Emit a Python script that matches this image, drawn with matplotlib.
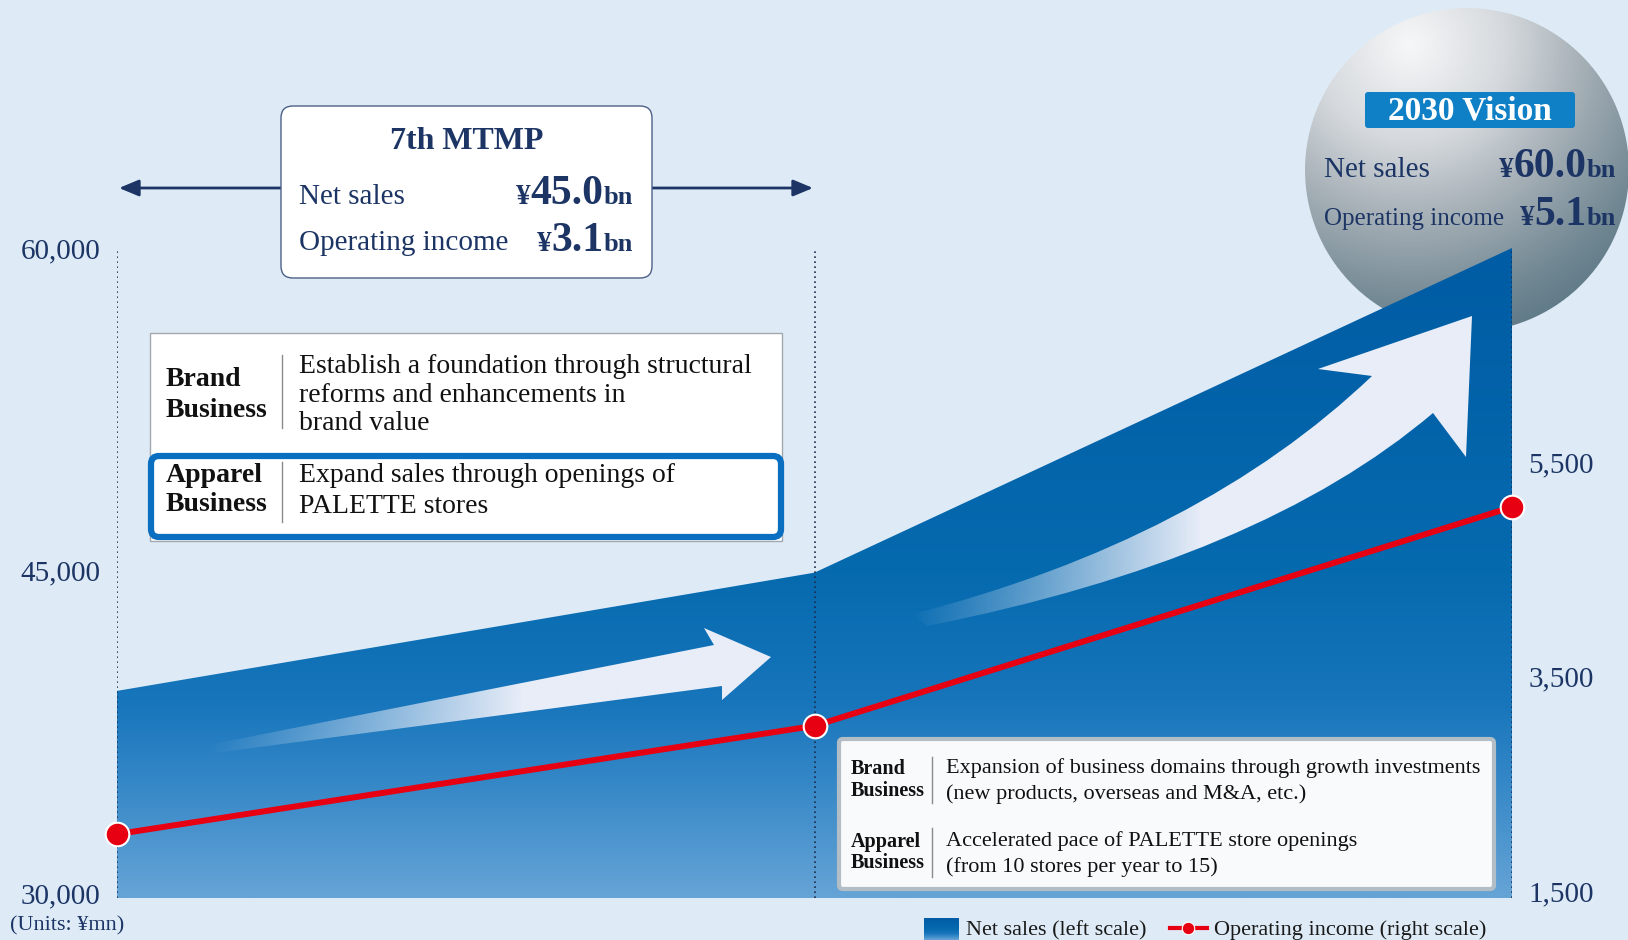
import numpy as np
import matplotlib
matplotlib.use('Agg')
import matplotlib.pyplot as plt
from matplotlib.patches import Polygon, FancyBboxPatch, Rectangle, PathPatch
from matplotlib.path import Path
from matplotlib.colors import LinearSegmentedColormap, to_rgb

plt.rcParams['font.family'] = ['Liberation Serif', 'DejaVu Serif']

# Data (¥mn)
periods = [0, 1, 2]                      # start, end of 7th MTMP, 2030 Vision
net_sales = [39400, 44900, 60000]        # left scale
op_income = [2030, 3040, 5080]           # right scale
left_ticks = [30000, 45000, 60000]
right_ticks = [1500, 3500, 5500]

# Colours
BG = '#deebf6'
NAVY = '#1c3565'
RED = '#e60012'
ARROW = '#e8edf8'

W, H = 1628, 940
fig = plt.figure(figsize=(W / 100, H / 100), dpi=100)
fig.patch.set_facecolor(BG)


def rect(x0, y0, x1, y1):
    # pixel box measured from the top-left -> figure fraction
    return [x0 / W, 1 - y1 / H, (x1 - x0) / W, (y1 - y0) / H]


# ---- background layer: the 2030 sphere
ax_bg = fig.add_axes([0, 0, 1, 1], zorder=0)
ax_bg.axis('off')
cx, cy, r = 1467, 170, 162
xs, ys = np.meshgrid(np.arange(1300, 1640) + 0.5, np.arange(0, 340) + 0.5)
d = np.hypot(xs - 1410, ys - 45) / 320
sphere_cmap = LinearSegmentedColormap.from_list(
    'sphere', [(0, '#f6f7f8'), (0.3, '#d5d9dd'), (0.55, '#a4aeb5'), (0.8, '#748a95'), (1, '#587482')])
img = sphere_cmap(np.clip(d, 0, 1))
img[..., 3] = np.clip(r - np.hypot(xs - cx, ys - cy) + 0.5, 0, 1)
ax_bg.imshow(img, extent=[1300, 1640, 340, 0], aspect='auto', interpolation='bilinear')
ax_bg.set_xlim(0, W)
ax_bg.set_ylim(H, 0)

# ---- data layer
ax = fig.add_axes(rect(117, 240, 1512, 898), zorder=1)
ax.patch.set_visible(False)
px_left = 645 / 30000      # pixels per ¥mn, left scale
px_right = 429 / 4000      # pixels per ¥mn, right scale
ax.set_xlim(0, 2)
ax.set_ylim(30000 - 5 / px_left, 60000 + 8 / px_left)
base = ax.get_ylim()[0]

sales_cmap = LinearSegmentedColormap.from_list(
    'sales', [(0, '#66a4d6'), (0.18, '#3487c7'), (0.3, '#1775bb'), (0.5, '#066aaf'), (1, '#005ca4')])
verts = [(periods[0], base)] + list(zip(periods, net_sales)) + [(periods[-1], base)]
area = Polygon(verts, closed=True, facecolor='none', edgecolor='none')
ax.add_patch(area)
grad = np.linspace(0, 1, 256).reshape(-1, 1)
im = ax.imshow(grad, cmap=sales_cmap, origin='lower', aspect='auto',
               extent=[periods[0], periods[-1], base, max(net_sales)], zorder=1)
im.set_clip_path(area)
ax.vlines(periods, base, left_ticks[-1], colors='#1d2c4c', linestyles=(0, (1, 2)), lw=1.2, zorder=3)
ax.set_xlim(0, 2)
ax.set_ylim(30000 - 5 / px_left, 60000 + 8 / px_left)

ax2 = ax.twinx()
ax2.set_zorder(1.5)
ax2.patch.set_visible(False)
ax2.set_ylim(1500 - 7 / px_right, 5500 + 222 / px_right)
ax2.plot(periods, op_income, color=RED, lw=4.3, marker='o', ms=17, mfc=RED,
         mec='white', mew=1.5, clip_on=False, zorder=5)

for a in (ax, ax2):
    for s in a.spines.values():
        s.set_visible(False)
    a.set_xticks([])
ax.set_yticks(left_ticks, [f'{v:,}' for v in left_ticks])
ax.tick_params(axis='y', length=0, pad=12, labelsize=21, labelcolor=NAVY)
ax2.set_yticks(right_ticks, [f'{v:,}' for v in right_ticks])
ax2.tick_params(axis='y', length=0, pad=12, labelsize=21, labelcolor=NAVY)

# ---- overlay layer: arrows, boxes, text (pixel coordinates)
ax_o = fig.add_axes([0, 0, 1, 1], zorder=3)
ax_o.axis('off')
ax_o.set_xlim(0, W)
ax_o.set_ylim(H, 0)
ax_o.set_autoscale_on(False)
renderer = fig.canvas.get_renderer()


def fading_arrow(path, x0, x1):
    bb = path.get_extents()
    xx = np.linspace(bb.x0, bb.x1, 400)
    a_img = np.zeros((2, xx.size, 4))
    a_img[..., :3] = to_rgb(ARROW)
    a_img[..., 3] = np.clip((xx - x0) / (x1 - x0), 0, 1) ** 1.1
    patch = PathPatch(path, fc='none', ec='none')
    ax_o.add_patch(patch)
    aim = ax_o.imshow(a_img, extent=[bb.x0, bb.x1, bb.y1, bb.y0], aspect='auto',
                      interpolation='bilinear', zorder=2)
    aim.set_clip_path(patch)


M, L, C3, CL = Path.MOVETO, Path.LINETO, Path.CURVE3, Path.CLOSEPOLY
fading_arrow(Path([(208, 745), (714, 645), (704, 628), (771, 657), (722, 700),
                   (722, 686), (214, 753), (208, 745)],
                  [M, L, L, L, L, L, L, CL]), 205, 520)
fading_arrow(Path([(913, 614), (1200, 540), (1372, 376), (1318, 369), (1472, 316),
                   (1466, 457), (1433, 413), (1260, 560), (927, 626), (913, 614)],
                  [M, C3, C3, L, L, L, L, C3, C3, CL]), 905, 1200)


def txt(x, y, s, **kw):
    kw.setdefault('va', 'baseline')
    kw.setdefault('zorder', 6)
    return ax_o.text(x, y, s, **kw)


def amount(x_right, y, num, sizes=(21, 30, 19)):
    x = x_right
    for s, fs in reversed(list(zip(['¥', num, 'bn'], sizes))):
        t = txt(x, y, s, fontsize=fs, fontweight='bold', color=NAVY, ha='right')
        x -= t.get_window_extent(renderer=renderer).width


# 7th MTMP box with period arrows
ax_o.add_patch(FancyBboxPatch((281, 106), 371, 172, boxstyle='round,pad=0,rounding_size=12',
                              fc='white', ec='#4d6088', lw=1.0, zorder=4))
for tip, tail in ((119, 281), (813, 652)):
    ax_o.annotate('', xy=(tip, 188), xytext=(tail, 188),
                  arrowprops=dict(arrowstyle='-|>,head_length=0.6,head_width=0.25', color=NAVY,
                                  lw=2, mutation_scale=20, shrinkA=0, shrinkB=0))
txt(467, 149, '7th MTMP', fontsize=23, fontweight='bold', color=NAVY, ha='center')
txt(299, 204, 'Net sales', fontsize=21, color=NAVY)
txt(299, 250, 'Operating income', fontsize=21, color=NAVY)
amount(633, 204, '45.0')
amount(633, 251, '3.1')

# 2030 Vision
ax_o.add_patch(FancyBboxPatch((1365, 92), 210, 36, boxstyle='round,pad=0,rounding_size=3',
                              fc='#0f7fc6', ec='none', zorder=4))
txt(1470, 120, '2030 Vision', fontsize=24, fontweight='bold', color='white', ha='center')
txt(1324, 177, 'Net sales', fontsize=21, color=NAVY)
txt(1324, 225, 'Operating income', fontsize=18, color=NAVY)
amount(1616, 177, '60.0')
amount(1616, 225, '5.1')

# 7th MTMP measures box
ax_o.add_patch(Rectangle((150, 333), 632, 208, fc='white', ec='#a3a8ae', lw=1.0, zorder=4))
ax_o.add_patch(FancyBboxPatch((151, 456), 630, 81, boxstyle='round,pad=0,rounding_size=8',
                              fc='white', ec='#0a6fc0', lw=4.5, zorder=4))
ax_o.plot([282, 282], [355, 428], color='#8a8a8a', lw=1, zorder=5)
ax_o.plot([282, 282], [462, 522], color='#8a8a8a', lw=1, zorder=5)
for y, s in ((386, 'Brand'), (417, 'Business'), (482, 'Apparel'), (511, 'Business')):
    txt(166, y, s, fontsize=20, fontweight='bold', color='#111111')
for y, s in ((373, 'Establish a foundation through structural'), (402, 'reforms and enhancements in'),
             (430, 'brand value'), (482, 'Expand sales through openings of'), (513, 'PALETTE stores')):
    txt(299, y, s, fontsize=20, color='#111111')

# 2030 measures box
ax_o.add_patch(FancyBboxPatch((839, 739), 655, 150, boxstyle='round,pad=0,rounding_size=4',
                              fc='#f8fafc', ec='#b3bdc6', lw=3, zorder=4))
ax_o.plot([932, 932], [757, 803], color='#8a8a8a', lw=1, zorder=5)
ax_o.plot([932, 932], [828, 877], color='#8a8a8a', lw=1, zorder=5)
for y, s in ((774, 'Brand'), (796, 'Business'), (847, 'Apparel'), (868, 'Business')):
    txt(851, y, s, fontsize=14.5, fontweight='bold', color='#111111')
for y, s in ((773, 'Expansion of business domains through growth investments'),
             (799, '(new products, overseas and M&A, etc.)'),
             (846, 'Accelerated pace of PALETTE store openings'),
             (872, '(from 10 stores per year to 15)')):
    txt(946, y, s, fontsize=16, color='#111111')

# units and legend
txt(10, 930, '(Units: ¥mn)', fontsize=16, color=NAVY)
ax_o.imshow(sales_cmap(np.linspace(1, 0, 64)).reshape(-1, 1, 4), extent=[924, 959, 940, 918],
            aspect='auto', zorder=5)
txt(966, 935, 'Net sales (left scale)', fontsize=16, color='#1a1a1a')
ax_o.plot([1170, 1207], [928, 928], color=RED, lw=3, zorder=5)
ax_o.plot([1188], [928], 'o', color=RED, ms=9, mec='white', mew=0.8, zorder=6)
txt(1214, 935, 'Operating income (right scale)', fontsize=16, color='#1a1a1a')
ax_o.set_xlim(0, W)
ax_o.set_ylim(H, 0)

fig.savefig('out.png', dpi=100, facecolor=BG)
